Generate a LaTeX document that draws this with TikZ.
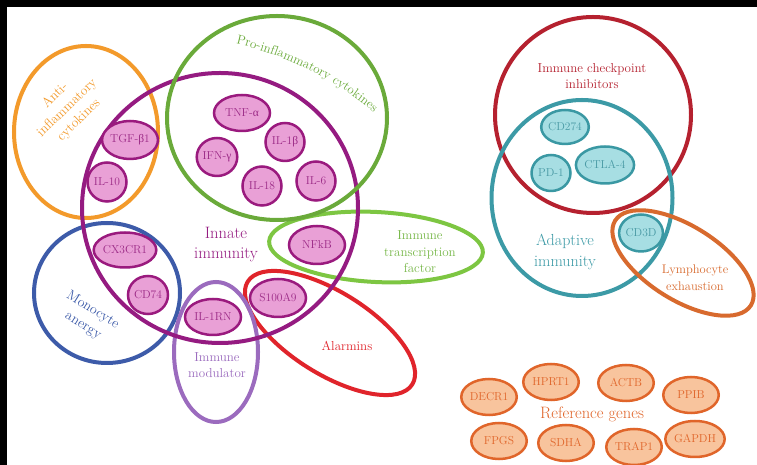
\documentclass[tikz,border=0pt]{standalone}
\usepackage{fontspec}
\newfontfamily\grk{Liberation Serif}
\usetikzlibrary{shapes.geometric,decorations.text}
\definecolor{antiC}{HTML}{F39A2B}
\definecolor{proC}{HTML}{6AAA3A}
\definecolor{innC}{HTML}{951B81}
\definecolor{monoC}{HTML}{3D5BA9}
\definecolor{modC}{HTML}{9B6BBE}
\definecolor{alarmC}{HTML}{E0242B}
\definecolor{trC}{HTML}{7DC642}
\definecolor{trT}{HTML}{78B84A}
\definecolor{chkC}{HTML}{B5212F}
\definecolor{adC}{HTML}{3C9AA6}
\definecolor{lyC}{HTML}{D86A2E}
\definecolor{pinkF}{HTML}{E9A0D6}
\definecolor{pinkL}{HTML}{9A1A7E}
\definecolor{pinkT}{HTML}{9B2A86}
\definecolor{tealF}{HTML}{A7DEE3}
\definecolor{tealL}{HTML}{3A98A3}
\definecolor{tealT}{HTML}{4A9AA5}
\definecolor{refF}{HTML}{F8C49D}
\definecolor{refL}{HTML}{E0652A}
\tikzset{
  big/.style={draw, ellipse, line width=4pt, inner sep=0pt},
  gene/.style={ellipse, line width=2.5pt, inner sep=0pt,
    font=\fontsize{11.5}{11.5}\selectfont},
  pinkgene/.style={gene, draw=pinkL, fill=pinkF, text=pinkT},
  tealgene/.style={gene, draw=tealL, fill=tealF, text=tealT},
  refgene/.style={gene, draw=refL, fill=refF, text=refL,
    minimum width=55.5pt, minimum height=36pt},
  lbl/.style={align=center, inner sep=0pt},
}
\begin{document}
\begin{tikzpicture}[x=1pt,y=1pt]
\useasboundingbox (0,0) rectangle (757,465);
\fill[white] (0,0) rectangle (757,465);
\fill[black] (0,458) rectangle (757,465);
\fill[black] (0,0) rectangle (7,465);

% group ellipses
\node[big, draw=trC, minimum width=214pt, minimum height=70pt, rotate=-3] (transc) at (376,218) {};
\node[big, draw=alarmC, minimum width=194pt, minimum height=82pt, rotate=-32] (alarm) at (330,132) {};
\node[big, draw=antiC, minimum width=144pt, minimum height=172pt] (anti) at (86,333) {};
\node[big, draw=monoC, minimum width=146pt, minimum height=140pt] (mono) at (107,172) {};
\node[big, draw=modC, minimum width=84pt, minimum height=140pt] (modul) at (216,113) {};
\node[big, draw=innC, minimum width=276pt, minimum height=270pt] (innate) at (220,257) {};
\node[big, draw=proC, minimum width=220pt, minimum height=204pt] (pro) at (277,347) {};
\node[big, draw=chkC, minimum width=196pt, minimum height=196pt] (check) at (593,350) {};
\node[big, draw=adC, minimum width=181pt, minimum height=196pt] (adapt) at (582,267) {};
\node[big, draw=lyC, minimum width=160pt, minimum height=74pt, rotate=-32] (lymph) at (683,202) {};

% pink genes
\node[pinkgene, minimum width=56pt, minimum height=36pt] (tnf) at (242,352) {TNF-{\grk α}};
\node[pinkgene, minimum width=39pt, minimum height=38pt] (il1b) at (285,323) {IL-1{\grk β}};
\node[pinkgene, minimum width=39pt, minimum height=38pt] (ifn) at (217,308) {IFN-{\grk γ}};
\node[pinkgene, minimum width=39pt, minimum height=39pt] (il18) at (262,279) {IL-18};
\node[pinkgene, minimum width=39pt, minimum height=39pt] (il6) at (316,284) {IL-6};
\node[pinkgene, minimum width=54pt, minimum height=38pt] (tgf) at (130,325) {TGF-{\grk β}1};
\node[pinkgene, minimum width=39pt, minimum height=39pt] (il10) at (107,283) {IL-10};
\node[pinkgene, minimum width=54pt, minimum height=35pt] (cx3) at (125,215) {CX3CR1};
\node[pinkgene, minimum width=40pt, minimum height=38pt] (cd74) at (148,170) {CD74};
\node[pinkgene, minimum width=56pt, minimum height=36pt] (il1rn) at (213,148) {IL-1RN};
\node[pinkgene, minimum width=56pt, minimum height=38pt] (s100) at (278,167) {S100A9};
\node[pinkgene, minimum width=56pt, minimum height=38pt] (nfkb) at (317,220) {NFkB};

% teal genes
\node[tealgene, minimum width=44pt, minimum height=34pt] (cd274) at (565,338) {CD274};
\node[tealgene, minimum width=39pt, minimum height=36pt] (pd1) at (551,292) {PD-1};
\node[tealgene, minimum width=57pt, minimum height=37pt] (ctla) at (605,300) {CTLA-4};
\node[tealgene, minimum width=36pt, minimum height=37pt] (cd3d) at (641,232) {CD3D};

% reference genes
\node[refgene] (decr) at (489,68) {DECR1};
\node[refgene] (hprt) at (551,83) {HPRT1};
\node[refgene] (actb) at (626,82) {ACTB};
\node[refgene] (ppib) at (691,70) {PPIB};
\node[refgene] (fpgs) at (499,24) {FPGS};
\node[refgene] (sdha) at (566,22) {SDHA};
\node[refgene] (trap) at (634,18) {TRAP1};
\node[refgene] (gapdh) at (695,26) {GAPDH};

% labels
\node[lbl, text=innC, font=\fontsize{16.5}{20}\selectfont] (innL) at (226,220) {Innate\\immunity};
\node[lbl, text=adC, font=\fontsize{16}{21}\selectfont] (adL) at (565,213) {Adaptive\\immunity};
\node[lbl, text=chkC, font=\fontsize{13}{16}\selectfont] (chkL) at (592,389) {Immune checkpoint\\inhibitors};
\node[lbl, text=lyC, font=\fontsize{12.5}{17}\selectfont] (lyL) at (695,187) {Lymphocyte\\exhaustion};
\node[lbl, text=trT, font=\fontsize{13}{16.5}\selectfont] (trL) at (420,213) {Immune\\transcription\\factor};
\node[lbl, text=alarmC, font=\fontsize{13}{16}\selectfont] (alL) at (347,119) {Alarmins};
\node[lbl, text=modC, font=\fontsize{13}{16.5}\selectfont] (modL) at (217,100) {Immune\\modulator};
\node[lbl, text=monoC, font=\fontsize{14}{18}\selectfont, rotate=-32] (monoL) at (88,147) {Monocyte\\anergy};
\node[lbl, text=antiC, font=\fontsize{13.5}{17}\selectfont, rotate=44] (antiL) at (67,357) {Anti-\\inflammatory\\cytokines};
\node[lbl, text=refL, font=\fontsize{16.5}{18}\selectfont] (refL) at (592,51) {Reference genes};
\coordinate (arcS) at (226.6,423.1);
\path[decorate, decoration={text along path, text align=center,
  text={|\fontsize{13}{14}\selectfont\color{proC}|Pro-inflammatory cytokines}}]
  (arcS) arc[start angle=79, end angle=48, radius=323];
\end{tikzpicture}
\end{document}
